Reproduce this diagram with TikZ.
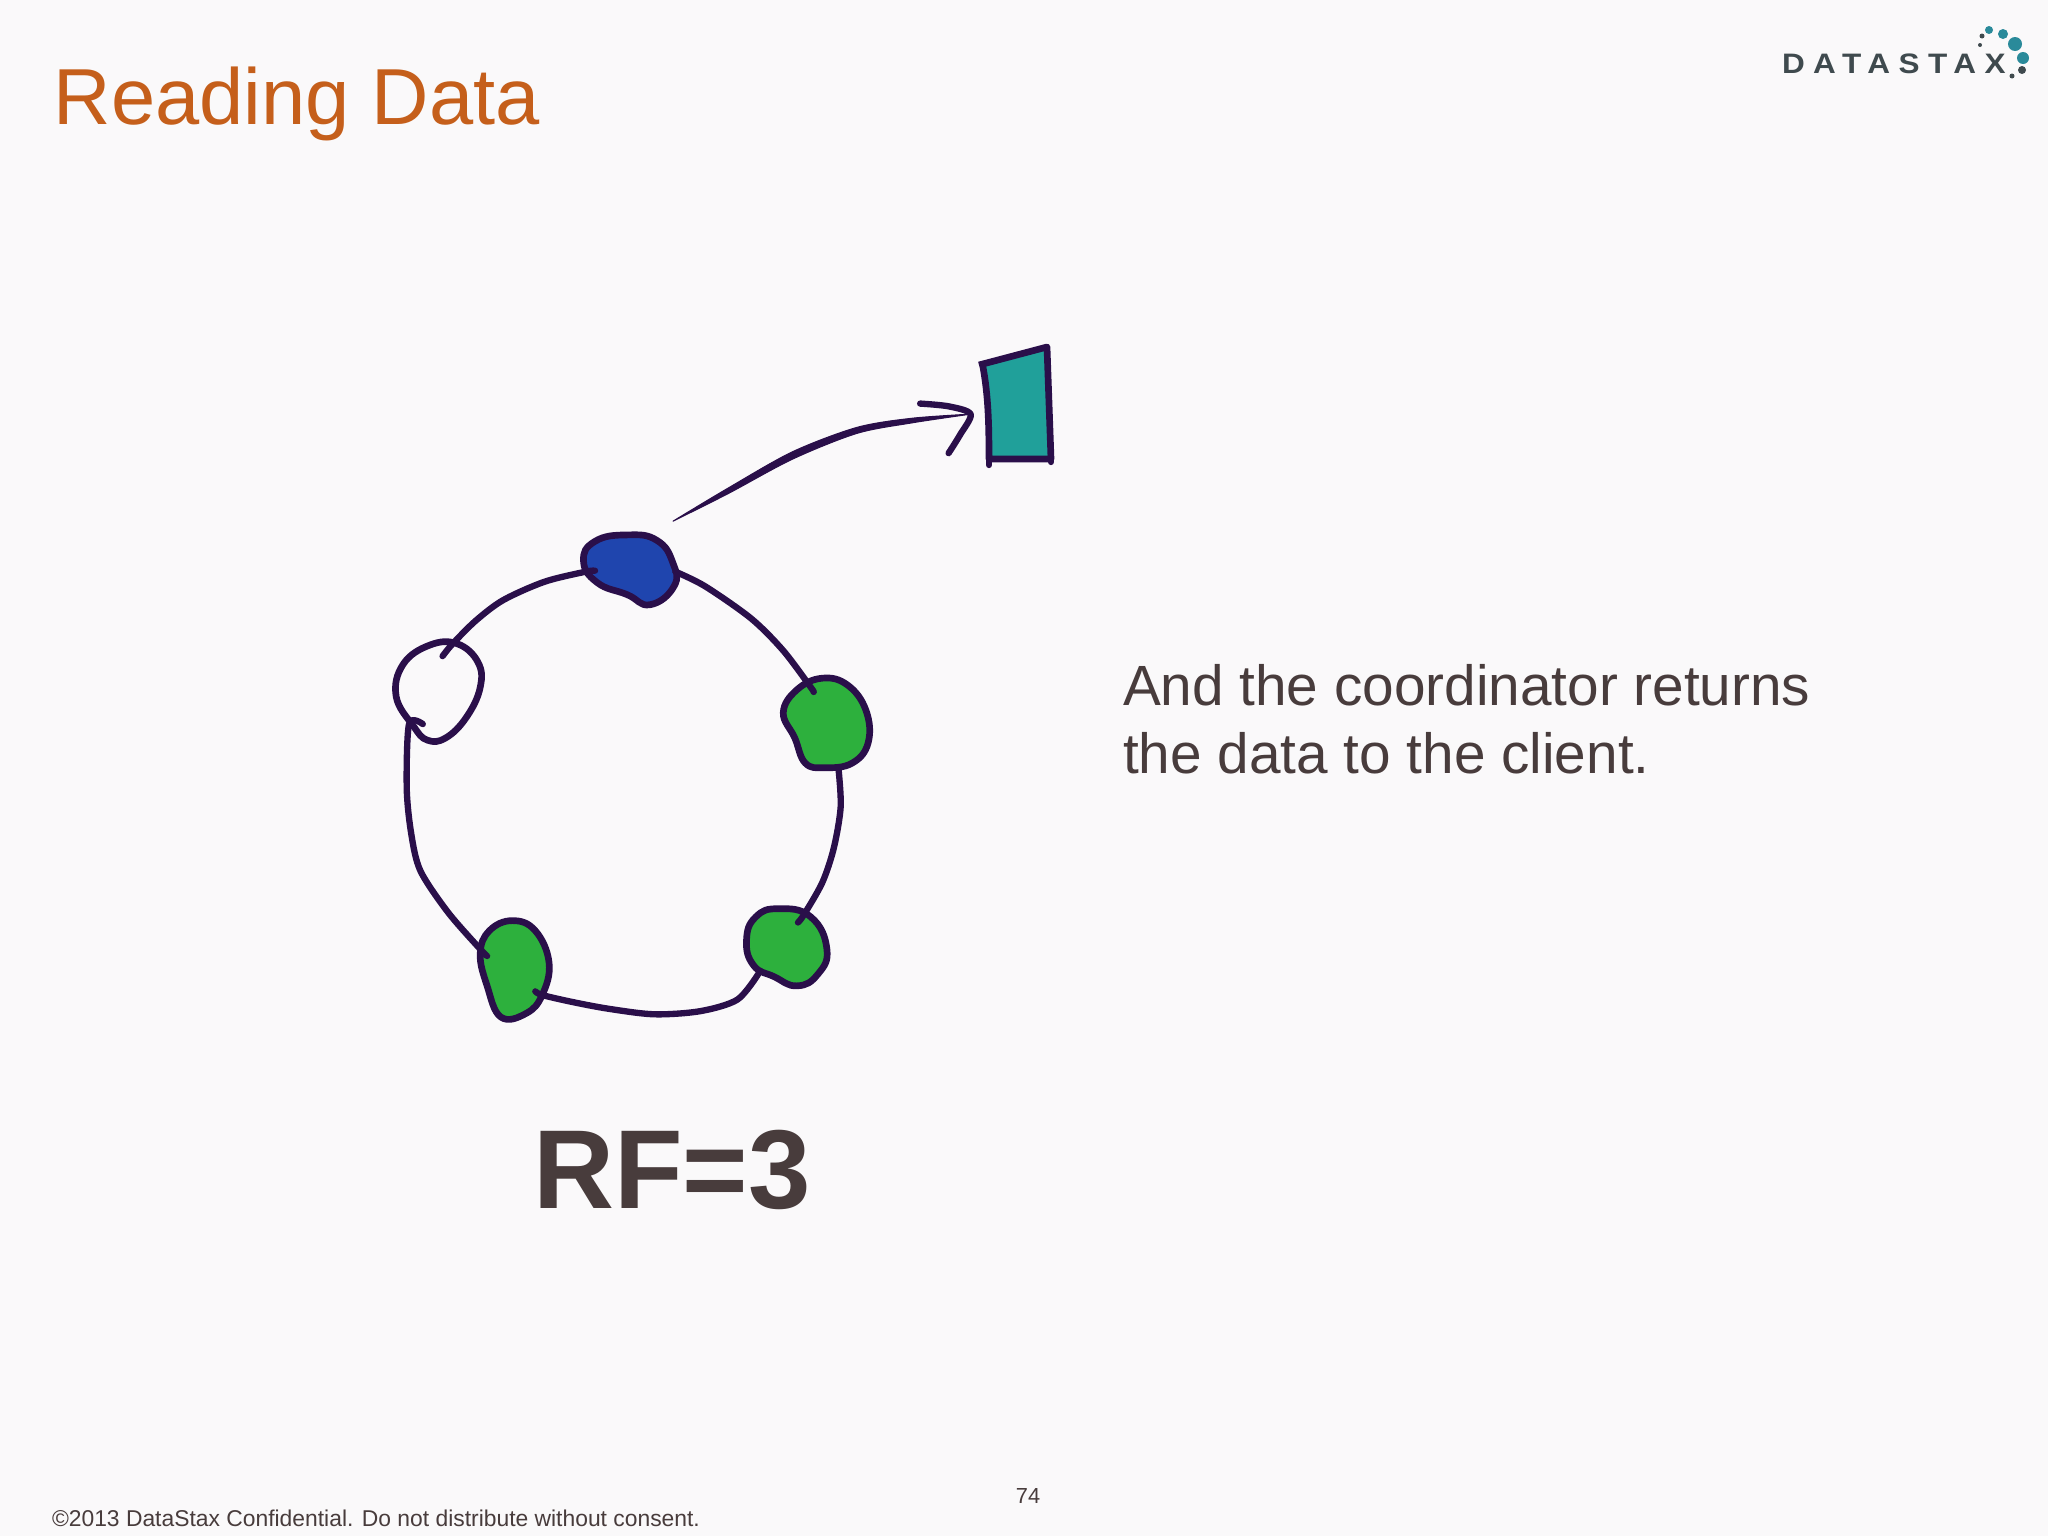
\documentclass[tikz,border=0pt]{standalone}
\usepackage{fontspec}
\setmainfont{Liberation Sans}
\newfontfamily\logofont[LetterSpace=30,FakeStretch=1.12]{Liberation Sans Bold}
\definecolor{slidebg}{HTML}{FAF9FA}
\definecolor{titleorange}{HTML}{C55F1B}
\definecolor{slidetext}{HTML}{483C3C}
\definecolor{inkpurple}{HTML}{2A0F4A}
\definecolor{nodegreen}{HTML}{2DB03D}
\definecolor{nodeblue}{HTML}{1F45AE}
\definecolor{clientteal}{HTML}{20A09A}
\definecolor{logoteal}{HTML}{2A8A9A}
\definecolor{logogrey}{HTML}{3F4A4E}

\begin{document}
\begin{tikzpicture}[x=0.01cm,y=-0.01cm,
        ring/.style={draw=inkpurple,line width=1.8pt,line cap=round,line join=round},
        blob/.style={draw=inkpurple,line width=1.9pt,line join=round},
        label/.style={inner sep=0pt,outer sep=0pt,text=slidetext}]
        \fill[slidebg] (0,0) rectangle (2048,1536);
        \useasboundingbox (0,0) rectangle (2048,1536);

        \node (title) at (54,124) [label, anchor=base west, text=titleorange] {\fontsize{22.6}{27}\selectfont Reading Data};
        \node (logo) at (1782,73) [label, anchor=base west, text=logogrey] {\fontsize{8}{10}\logofont DATASTAX};
        \node (body) at (1123,705) [label, anchor=base west] {\fontsize{16.13}{19.3}\selectfont And the coordinator returns};
        \node (bodytwo) at (1123,773) [label, anchor=base west] {\fontsize{16.13}{19.3}\selectfont the data to the client.};
        \node (rf) at (672,1208) [label, anchor=base, font=\bfseries] {\fontsize{31.9}{38}\selectfont RF=3};
        \node (pagenum) at (1028,1503) [label, anchor=base] {\fontsize{6.2}{8}\selectfont 74};
        \node (footer) at (52,1526) [label, anchor=base west] {\fontsize{6.5}{8}\selectfont ©2013 DataStax Confidential. Do not distribute without consent.};

        % logo dots
        \foreach \px/\py/\pr/\pc in {1989/30/4/logoteal,2003/34/5/logoteal,2015/44/7/logoteal,2023/58/6/logoteal,2022/70/4/logogrey,2012/76/2.5/logogrey,1982/36/2.5/logogrey,1980/45/2/logogrey}
                \fill[\pc] (\px,\py) circle ({\pr*0.01cm});

        % client
        \draw[blob,fill=clientteal] (979,365) -- (1047,347) -- (1051,459) -- (989,459) .. controls (989,420) and (988,395) .. (983,367);
        \draw[ring] (989,459) -- (989,465);
        \draw[ring] (1051,459) -- (1051,462);

        \begin{scope}[shift={(370,320)},scale=0.4592]
                % ring points
                \coordinate (bluel) at (490,546);
                \coordinate (bluer) at (665,548);
                \coordinate (whitet) at (158,732);
                \coordinate (whiteb) at (115,880);
                \coordinate (rightt) at (966,810);
                \coordinate (rightb) at (1020,975);
                \coordinate (lowrt) at (932,1312);
                \coordinate (lowrb) at (845,1425);
                \coordinate (lowlt) at (255,1385);
                \coordinate (lowlb) at (360,1462);
                \coordinate (arrowtail) at (660,438);
                \coordinate (arrowtip) at (1308,205);

                % nodes on the ring
                \draw[blob,fill=nodeblue] plot[smooth cycle,tension=0.8] coordinates {(465,525) (490,482) (560,468) (625,480) (660,530) (662,580) (610,620) (560,598) (495,572)};
                \draw[blob,fill=slidebg] plot[smooth cycle,tension=0.7] coordinates {(57,820) (72,750) (130,708) (190,705) (235,745) (240,800) (210,865) (165,910) (125,915) (95,885)};
                \draw[blob,fill=nodegreen] plot[smooth cycle,tension=0.7] coordinates {(900,855) (930,805) (985,780) (1040,795) (1080,850) (1085,920) (1050,965) (990,975) (948,965) (925,910)};
                \draw[blob,fill=nodegreen] plot[smooth cycle,tension=0.8] coordinates {(820,1350) (840,1300) (890,1282) (960,1300) (995,1370) (975,1425) (930,1450) (880,1430) (835,1405)};
                \draw[blob,fill=nodegreen] plot[smooth cycle,tension=0.7] coordinates {(240,1380) (260,1330) (310,1308) (360,1330) (390,1400) (375,1470) (340,1510) (285,1518) (255,1450)};

                % ring
                \draw[ring] plot[smooth] coordinates {(bluel) (470,548) (380,570) (290,610) (230,655) (180,705) (whitet)};
                \draw[ring] plot[smooth] coordinates {(bluer) (730,580) (830,650) (900,720) (960,800) (rightt)};
                \draw[ring] plot[smooth] coordinates {(rightb) (1025,1060) (1010,1150) (985,1225) (945,1295) (lowrt)};
                \draw[ring] plot[smooth] coordinates {(lowrb) (800,1480) (720,1505) (620,1512) (520,1500) (440,1485) (375,1470) (lowlb)};
                \draw[ring] plot[smooth] coordinates {(lowlt) (240,1370) (170,1290) (110,1200) (90,1120) (80,1020) (85,880) (whiteb)};

                % reply to the client
                \draw[fill=inkpurple,draw=inkpurple,line width=0.3pt,line join=round] plot[smooth] coordinates {(arrowtail) (780,366) (920,287) (1060,234) (1180,214) (arrowtip)} -- plot[smooth] coordinates {(arrowtip) (1180,224) (1060,247) (920,303) (780,378) (arrowtail)} -- cycle;
                \draw[ring] plot[smooth] coordinates {(1198,182) (1260,188) (arrowtip) (1285,250) (1260,290)};
        \end{scope}
\end{tikzpicture}
\end{document}
